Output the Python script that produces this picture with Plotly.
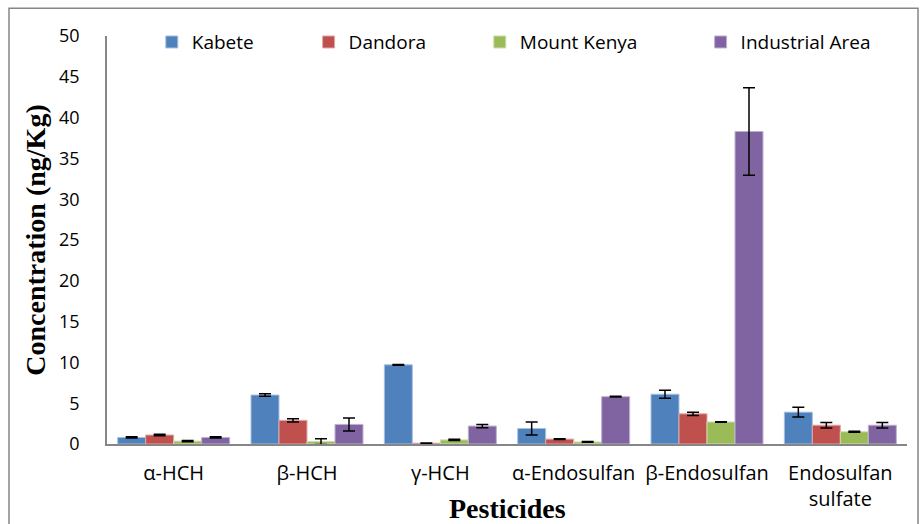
import plotly.graph_objects as go

categories = ["α-HCH", "β-HCH", "γ-HCH", "α-Endosulfan", "β-Endosulfan", "Endosulfan<br>sulfate"]
series_names = ["Kabete", "Dandora", "Mount Kenya", "Industrial Area"]

kabete = [0.8, 6.0, 9.7, 1.9, 6.1, 3.9]
kabete_err = [0.08, 0.15, 0.05, 0.8, 0.5, 0.6]
dandora = [1.1, 2.9, 0.1, 0.6, 3.7, 2.3]
dandora_err = [0.08, 0.2, 0.03, 0.05, 0.2, 0.35]
mount_kenya = [0.35, 0.3, 0.5, 0.25, 2.7, 1.5]
mount_kenya_err = [0.08, 0.35, 0.07, 0.05, 0.02, 0.05]
industrial = [0.8, 2.4, 2.2, 5.8, 38.3, 2.3]
industrial_err = [0.08, 0.8, 0.2, 0.05, 5.35, 0.35]

colors = ["#4F81BD", "#C0504D", "#9BBB59", "#8064A2"]
edge_colors = ["#A7C0DE", "#DFA9A8", "#CDDDAE", "#BFB1D0"]
values = [kabete, dandora, mount_kenya, industrial]
errors = [kabete_err, dandora_err, mount_kenya_err, industrial_err]

legend_ids = ["legend", "legend2", "legend3", "legend4"]
legend_x = [0.056, 0.252, 0.466, 0.742]

fig = go.Figure()
for i in range(4):
    fig.add_trace(go.Bar(
        x=categories, y=values[i], name=series_names[i],
        marker=dict(color=colors[i], line=dict(color=edge_colors[i], width=1)),
        error_y=dict(type="data", array=errors[i], visible=True,
                     color="black", thickness=1.5, width=6),
        legend=legend_ids[i],
    ))

legend_common = dict(orientation="h", yanchor="middle", y=0.985, xanchor="left",
                     font=dict(family="Open Sans", size=19, color="black"),
                     bgcolor="rgba(0,0,0,0)", itemwidth=30)
layout_legends = {}
for i, lid in enumerate(legend_ids):
    layout_legends[lid] = dict(legend_common, x=legend_x[i])

fig.update_layout(
    width=923, height=524,
    margin=dict(l=107, r=16, t=36, b=78),
    paper_bgcolor="white", plot_bgcolor="white",
    barmode="group", bargap=0.16, bargroupgap=0,
    showlegend=True,
    **layout_legends,
)

fig.update_xaxes(
    showline=True, linecolor="#868686", linewidth=1.5,
    ticks="", ticklabelstandoff=10,
    tickfont=dict(family="Open Sans", size=20, color="black"),
    showgrid=False,
)
fig.update_yaxes(
    range=[0, 50], dtick=5, showline=True, linecolor="#868686", linewidth=1.5,
    ticks="", ticklabelstandoff=22,
    tickfont=dict(family="Open Sans", size=18, color="black"),
    showgrid=False, zeroline=False,
    title=dict(text="Concentration (ng/Kg)", standoff=5,
               font=dict(family="Liberation Serif", size=28, color="black", weight="bold")),
)

fig.add_annotation(
    text="<b>Pesticides</b>", xref="paper", yref="paper", x=0.5, y=-0.1585,
    xanchor="center", yanchor="middle", showarrow=False,
    font=dict(family="Liberation Serif", size=28, color="black"),
)

fig.add_shape(
    type="rect", xref="paper", yref="paper",
    x0=(9 - 107) / 800, x1=(918 - 107) / 800,
    y0=-0.3, y1=1 + (36 - 8) / 410,
    line=dict(color="#868686", width=1.5), fillcolor="rgba(0,0,0,0)", layer="below",
)

fig.write_html("out.html", config={"displayModeBar": False},
               post_script="document.body.style.margin='0';")
